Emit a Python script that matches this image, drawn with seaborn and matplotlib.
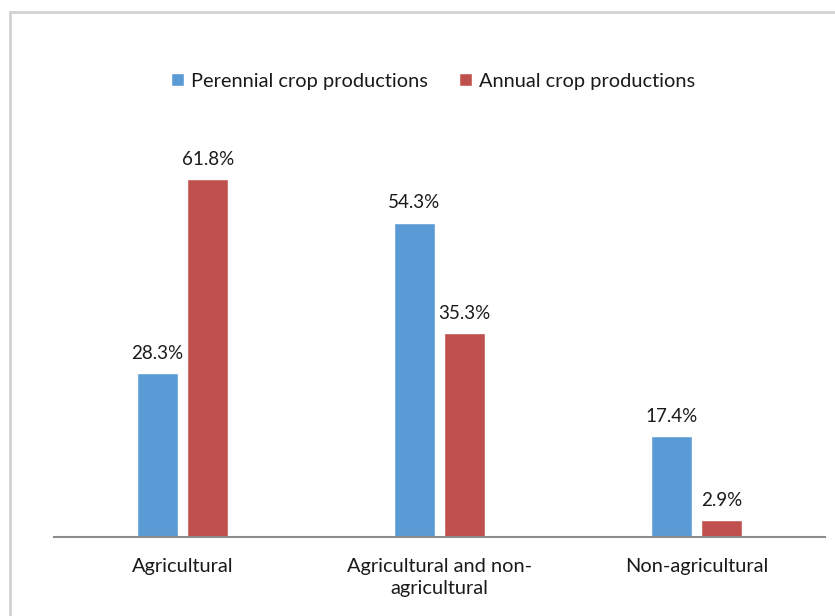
import matplotlib
matplotlib.use("Agg")
import matplotlib.pyplot as plt
import matplotlib.patches as mpatches
import seaborn as sns
import pandas as pd

categories = ["Agricultural", "Agricultural and non-\nagricultural", "Non-agricultural"]
series_names = ["Perennial crop productions", "Annual crop productions"]
perennial = [28.3, 54.3, 17.4]
annual = [61.8, 35.3, 2.9]
colors = ["#5B9BD5", "#C0504D"]

df = pd.DataFrame({
    "category": categories * 2,
    "series": [series_names[0]] * 3 + [series_names[1]] * 3,
    "value": perennial + annual,
})

sns.set_theme(style="white")
plt.rcParams["font.family"] = ["Lato", "DejaVu Sans"]

W, H = 835, 616
fig = plt.figure(figsize=(W / 100, H / 100), dpi=100)
fig.patch.set_facecolor("white")

# plot area in pixel terms
left, right, bottom_px, top_px = 54, 825, 537, 100
ax = fig.add_axes([left / W, 1 - bottom_px / H, (right - left) / W, (bottom_px - top_px) / H])

sns.barplot(data=df, x="category", y="value", hue="series", order=categories,
            hue_order=series_names, palette=colors, width=0.392, gap=0.187,
            saturation=1, ax=ax, legend=True)

ax.set_ylim(0, (bottom_px - top_px) / 5.79)
ax.set_xlim(-0.5, 2.5)
ax.set_xlabel("")
ax.set_ylabel("")
ax.set_yticks([])
for s in ["top", "right", "left"]:
    ax.spines[s].set_visible(False)
ax.spines["bottom"].set_color("#8c8c8c")
ax.spines["bottom"].set_linewidth(1.5)
ax.tick_params(axis="x", length=0, pad=15, labelsize=14.4, colors="#1a1a1a")
for lbl in ax.get_xticklabels():
    lbl.set_linespacing(1.35)

for container in ax.containers:
    ax.bar_label(container, fmt="%.1f%%", padding=8, fontsize=13.5, color="#1a1a1a")

leg = ax.legend(loc="center", bbox_to_anchor=(433 / W, 1 - 81 / H),
                bbox_transform=fig.transFigure, ncol=2, frameon=False,
                fontsize=14.4, handlelength=0.62, handleheight=0.62,
                handletextpad=0.35, columnspacing=1.6)
for t in leg.get_texts():
    t.set_color("#1a1a1a")

# light outer frame of the chart area
fig.patches.append(mpatches.Rectangle((10 / W, -0.1), 1.2, (H - 12) / H + 0.1,
                                      transform=fig.transFigure, fill=False,
                                      edgecolor="#d2d2d2", linewidth=2))

fig.savefig("out.png", dpi=100)
